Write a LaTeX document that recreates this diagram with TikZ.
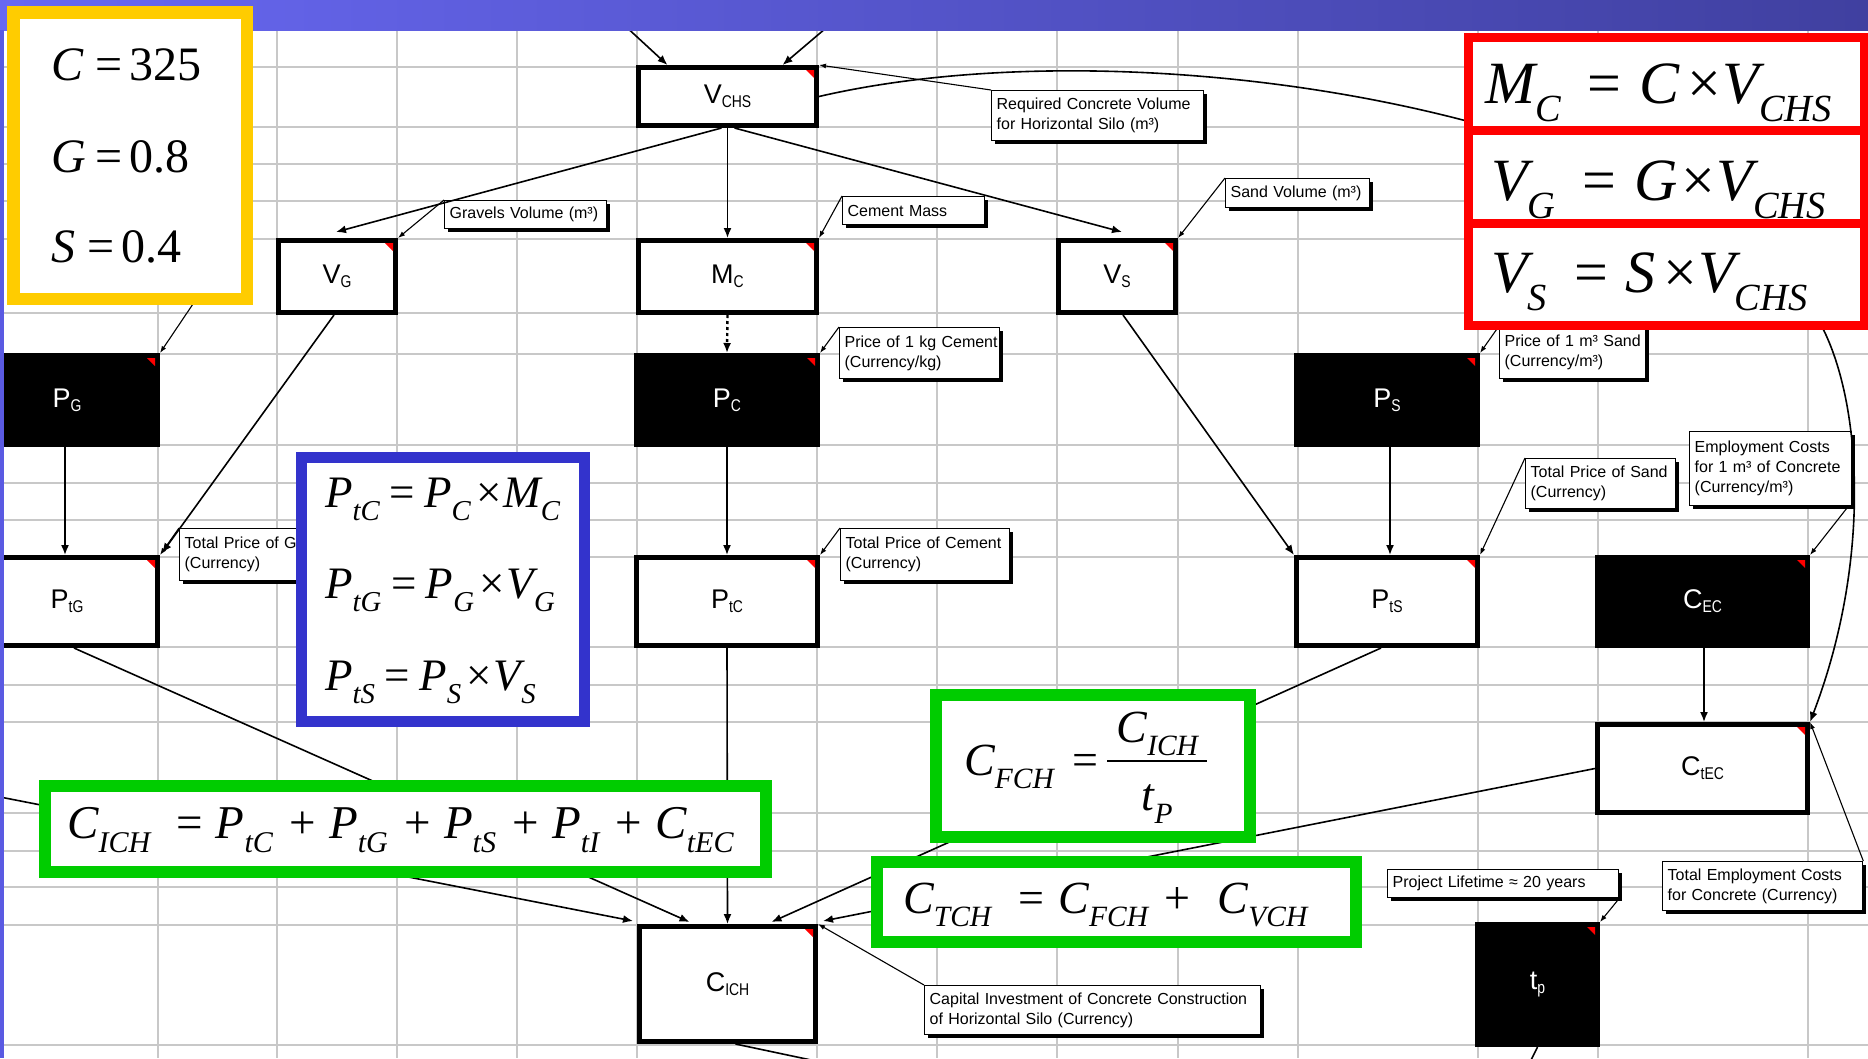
\documentclass[tikz,border=0pt]{standalone}
\usepackage{fontspec}
\usepackage{graphicx}
\usetikzlibrary{arrows.meta,shadows}
\setmainfont{Liberation Sans}
\newfontfamily\tms{Liberation Serif}
\newfontfamily\clf{Liberation Sans}
\newfontfamily\sbf[FakeStretch=0.82]{Liberation Sans}

\definecolor{gridc}{RGB}{200,200,200}
\definecolor{hdrL}{RGB}{104,104,242}
\definecolor{hdrR}{RGB}{64,64,160}
\definecolor{stripc}{RGB}{90,90,226}
\definecolor{yelc}{RGB}{255,204,0}
\definecolor{bluc}{RGB}{51,51,204}
\definecolor{grnc}{RGB}{0,204,0}
\definecolor{redc}{RGB}{255,0,0}

\newcommand\nlab[2]{{\fontsize{27}{27}\selectfont #1}\raisebox{-4pt}{\sbf\fontsize{17}{17}\selectfont #2}}
\newcommand\fv[2]{{\itshape #1}\raisebox{-0.3em}{\scalebox{0.64}{\itshape #2}}}
\newcommand\Eq[2]{\hspace{#1}=\hspace{#2}}
\newcommand\Pl[2]{\hspace{#1}+\hspace{#2}}
\newcommand\Tm[2]{\hspace{#1}×\hspace{#2}}
\newcommand\ffrac[3]{\rlap{\makebox[#1]{\raisebox{33pt}{#2}}}\rlap{\makebox[#1]{\raisebox{-35pt}{#3}}}\rule[13pt]{#1}{2pt}}
\newcommand\rtri[1]{\fill[redc] ([xshift=-13pt,yshift=-5pt]#1.north east) -- ([xshift=-5pt,yshift=-5pt]#1.north east) -- ([xshift=-5pt,yshift=-13pt]#1.north east) -- cycle;}

\tikzset{
  wbox/.style={draw=black, line width=5pt, fill=white, inner sep=0pt},
  bbox/.style={draw=black, line width=5pt, fill=black, text=white, inner sep=0pt},
  callout/.style={draw=black, line width=1.3pt, fill=white, anchor=north west, align=left,
    inner xsep=5pt, inner ysep=2pt, font=\clf\fontsize{16}{20}\selectfont,
    drop shadow={shadow xshift=3pt, shadow yshift=-3pt, fill=black, opacity=1}},
  conn/.style={line width=1.6pt, -{Latex[length=10pt,width=8pt]}},
  lead/.style={line width=1.1pt, -{Latex[length=7pt,width=5pt]}},
  gridl/.style={draw=gridc, line width=2pt},
  eqtext/.style={anchor=base west, inner sep=0pt, font=\tms},
  eqbox/.style={draw=#1, fill=white, inner sep=0pt}
}

\begin{document}
\begin{tikzpicture}[x=1pt,y=-1pt]
\useasboundingbox (0,0) rectangle (1868,1058);
\clip (0,0) rectangle (1868,1058);
\fill[white] (0,0) rectangle (1868,1058);

% grid
\foreach \gx in {158,277,397,517,637,817,937,1057,1178,1298,1478,1598,1808}
  \draw[gridl] (\gx,30) -- (\gx,1058);
\foreach \gy in {67,127,164,201,239,313,354,445,483,520,557,647,685,722,813,851,887,925,1045}
  \draw[gridl] (0,\gy) -- (1868,\gy);

% model boxes
\node[wbox, minimum width=178pt, minimum height=58pt] (vchs) at (727.5,96.5) {\nlab{V}{CHS}};
\node[wbox, minimum width=117pt, minimum height=72pt] (vg) at (337,276.5) {\nlab{V}{G}};
\node[wbox, minimum width=178pt, minimum height=72pt] (mc) at (727.5,276.5) {\nlab{M}{C}};
\node[wbox, minimum width=117pt, minimum height=72pt] (vs) at (1117,276.5) {\nlab{V}{S}};
\node[bbox, minimum width=181pt, minimum height=89pt] (pg) at (67,400) {\nlab{P}{G}};
\node[bbox, minimum width=181pt, minimum height=89pt] (pc) at (727,400) {\nlab{P}{C}};
\node[bbox, minimum width=181pt, minimum height=89pt] (ps) at (1387,400) {\nlab{P}{S}};
\node[wbox, minimum width=181pt, minimum height=88pt] (ptg) at (67,601.5) {\nlab{P}{tG}};
\node[wbox, minimum width=181pt, minimum height=88pt] (ptc) at (727,601.5) {\nlab{P}{tC}};
\node[wbox, minimum width=181pt, minimum height=88pt] (pts) at (1387,601.5) {\nlab{P}{tS}};
\node[bbox, minimum width=210pt, minimum height=88pt] (cec) at (1702.5,601.5) {\nlab{C}{EC}};
\node[wbox, minimum width=210pt, minimum height=88pt] (ctec) at (1702.5,768.5) {\nlab{C}{tEC}};
\node[wbox, minimum width=176pt, minimum height=115pt] (cich) at (727.5,984) {\nlab{C}{ICH}};
\node[bbox, minimum width=120pt, minimum height=120pt] (tp) at (1537.5,984.5) {\nlab{t}{p}};
\foreach \n in {vchs,vg,mc,vs,pg,pc,ps,ptg,ptc,pts,cec,ctec,cich,tp} {\rtri{\n}}

% callouts
\node[callout, text width=202pt, minimum height=50pt] (rcv) at (991,90) {\mbox{Required Concrete Volume}\\\mbox{for Horizontal Silo (m³)}};
\node[callout, text width=152pt, minimum height=28pt] (gvv) at (444,200) {\mbox{Gravels Volume (m³)}};
\node[callout, text width=132pt, minimum height=28pt] (cmm) at (842,196) {\mbox{Cement Mass}};
\node[callout, text width=134pt, minimum height=29pt] (sdv) at (1225,178) {\mbox{Sand Volume (m³)}};
\node[callout, text width=150pt, minimum height=51pt] (p1c) at (839,327) {\mbox{Price of 1 kg Cement}\\\mbox{(Currency/kg)}};
\node[callout, text width=136pt, minimum height=52pt] (p1s) at (1499,326) {\mbox{Price of 1 m³ Sand}\\\mbox{(Currency/m³)}};
\node[callout, text width=160pt, minimum height=52pt] (tpg) at (179,528) {\mbox{Total Price of Gravel}\\\mbox{(Currency)}};
\node[callout, text width=159pt, minimum height=52pt] (tpc) at (840,528) {\mbox{Total Price of Cement}\\\mbox{(Currency)}};
\node[callout, text width=140pt, minimum height=50pt] (tps) at (1525,458) {\mbox{Total Price of Sand}\\\mbox{(Currency)}};
\node[callout, text width=152pt, minimum height=74pt] (emp) at (1689,431) {\mbox{Employment Costs}\\\mbox{for 1 m³ of Concrete}\\\mbox{(Currency/m³)}};
\node[callout, text width=190pt, minimum height=49pt] (tem) at (1662,861) {\mbox{Total Employment Costs}\\\mbox{for Concrete (Currency)}};
\node[callout, text width=221pt, minimum height=28pt] (plt) at (1387,869) {\mbox{Project Lifetime ≈ 20 years}};
\node[callout, text width=326pt, minimum height=49pt] (cap) at (924,985) {\mbox{Capital Investment of Concrete Construction}\\\mbox{of Horizontal Silo (Currency)}};

% free ends
\coordinate (in1) at (597,0);
\coordinate (in2) at (859,0);
\coordinate (inL) at (-5,796);
\coordinate (out1) at (830,1064);
\coordinate (out2) at (1527,1068);
\coordinate (pgc) at (197,298);

% connectors
\draw[conn] (in1) -- ([xshift=-60pt]vchs.north);
\draw[conn] (in2) -- ([xshift=55pt]vchs.north);
\draw[conn] ([xshift=-6pt]vchs.south) -- ([xshift=-1pt,yshift=6pt]vg.north);
\draw[conn] (vchs.south) -- (mc.north);
\draw[conn] ([xshift=7pt]vchs.south) -- ([xshift=5pt,yshift=6pt]vs.north);
\draw[conn, line width=2.4pt, dash pattern=on 3pt off 3pt] (mc.south) -- (pc.north);
\draw[conn] ([xshift=-2pt]pg.south) -- ([xshift=-2pt]ptg.north);
\draw[conn] ([xshift=-3pt]vg.south) -- ([xshift=2pt,yshift=2pt]ptg.north east);
\draw[conn] (pc.south) -- (ptc.north);
\draw[conn] ([xshift=6pt]vs.south) -- (pts.north west);
\draw[conn] ([xshift=3pt]ps.south) -- ([xshift=3pt]pts.north);
\draw[conn] ([xshift=1.5pt]cec.south) -- ([xshift=1.5pt]ctec.north);
\draw[conn] (vchs.east) .. controls (1150,20) and (1700,120) .. (1820,323)
  .. controls (1862,400) and (1872,560) .. (ctec.north east);
\draw[conn] ([xshift=7pt]ptg.south) -- ([xshift=-38pt,yshift=2pt]cich.north);
\draw[conn] (inL) -- ([xshift=-4pt,yshift=3pt]cich.north west);
\draw[conn] (ptc.south) -- (cich.north);
\draw[conn] ([xshift=-6pt]pts.south) -- ([xshift=44pt,yshift=2pt]cich.north);
\draw[conn] (ctec.west) -- ([xshift=5pt,yshift=3pt]cich.north east);
\draw[line width=1.6pt] ([xshift=8pt]cich.south) -- (out1);
\draw[line width=1.6pt] (tp.south) -- (out2);

% callout leaders
\draw[lead] (rcv.north west) -- (vchs.north east);
\draw[lead] (gvv.north west) -- (vg.north east);
\draw[lead] (cmm.north west) -- (mc.north east);
\draw[lead] (sdv.north west) -- (vs.north east);
\draw[lead] (p1c.north west) -- (pc.north east);
\draw[lead] (p1s.north west) -- (ps.north east);
\draw[lead] (pgc) -- (pg.north east);
\draw[lead] (tpg.north west) -- (ptg.north east);
\draw[lead] (tpc.north west) -- (ptc.north east);
\draw[lead] (tps.north west) -- (pts.north east);
\draw[lead] ([xshift=-4pt]emp.south east) -- (cec.north east);
\draw[lead] (tem.north east) -- (ctec.north east);
\draw[lead] (plt.south east) -- (tp.north east);
\draw[lead] (cap.north west) -- (cich.north east);

% red equation cells
\node[eqbox=redc, line width=9pt, minimum width=395.5pt, minimum height=92.5pt] (rb1) at (1666.25,83.75) {};
\node[eqbox=redc, line width=9pt, minimum width=395.5pt, minimum height=93pt] (rb2) at (1666.25,176.5) {};
\node[eqbox=redc, line width=9pt, minimum width=395.5pt, minimum height=102.5pt] (rb3) at (1666.25,274.25) {};
\node[eqtext] (fm1) at (1485,103) {\fontsize{60}{60}\selectfont\fv{M}{C}\Eq{0.45em}{0.3em}\textit{C}\Tm{0.12em}{0.02em}\fv{V}{CHS}};
\node[eqtext] (fm2) at (1491,200) {\fontsize{60}{60}\selectfont\fv{V}{G}\Eq{0.45em}{0.3em}\textit{G}\Tm{0.06em}{0.02em}\fv{V}{CHS}};
\node[eqtext] (fm3) at (1491,292) {\fontsize{60}{60}\selectfont\fv{V}{S}\Eq{0.45em}{0.3em}\textit{S}\Tm{0.12em}{0.02em}\fv{V}{CHS}};

% blue equation box
\node[eqbox=bluc, line width=11pt, minimum width=283pt, minimum height=264pt] (bb) at (443,589.5) {};
\node[eqtext] (fb1) at (325,507) {\fontsize{45}{45}\selectfont\fv{P}{tC}\Eq{0.22em}{0.2em}\fv{P}{C}\Tm{0.12em}{0.04em}\fv{M}{C}};
\node[eqtext] (fb2) at (325,598) {\fontsize{45}{45}\selectfont\fv{P}{tG}\Eq{0.22em}{0.2em}\fv{P}{G}\Tm{0.12em}{0.04em}\fv{V}{G}};
\node[eqtext] (fb3) at (325,690) {\fontsize{45}{45}\selectfont\fv{P}{tS}\Eq{0.22em}{0.2em}\fv{P}{S}\Tm{0.12em}{0.04em}\fv{V}{S}};

% green equation boxes
\node[eqbox=grnc, line width=12pt, minimum width=721pt, minimum height=86pt] (gb1) at (405.5,829) {};
\node[eqbox=grnc, line width=12pt, minimum width=314pt, minimum height=142pt] (gb2) at (1093,766) {};
\node[eqbox=grnc, line width=12pt, minimum width=479pt, minimum height=80pt] (gb3) at (1116.5,902) {};
\node[eqtext] (fg1) at (67,838) {\fontsize{47}{47}\selectfont\fv{C}{ICH}\Eq{0.55em}{0.28em}\fv{P}{tC}\Pl{0.35em}{0.28em}\fv{P}{tG}\Pl{0.35em}{0.28em}\fv{P}{tS}\Pl{0.35em}{0.28em}\fv{P}{tI}\Pl{0.35em}{0.28em}\fv{C}{tEC}};
\node[eqtext] (fg2) at (964,775) {\fontsize{46}{46}\selectfont\fv{C}{FCH}\Eq{0.4em}{0.2em}\ffrac{100pt}{\fv{C}{ICH}}{\fv{t}{P}}};
\node[eqtext] (fg3) at (903,913) {\fontsize{46}{46}\selectfont\fv{C}{TCH}\Eq{0.6em}{0.3em}\fv{C}{FCH}\Pl{0.35em}{0.6em}\fv{C}{VCH}};

% header and left strip
\fill[left color=hdrL, right color=hdrR] (0,0) rectangle (1868,30);
\fill[stripc] (0,30) rectangle (4,1058);

% yellow parameter box
\node[eqbox=yelc, line width=12.5pt, minimum width=233.5pt, minimum height=286.5pt] (ybox) at (130,155.5) {};
\node[eqtext] (yc) at (51,80) {\fontsize{48}{48}\selectfont\textit{C}\Eq{0.25em}{0.15em}325};
\node[eqtext] (yg) at (51,172) {\fontsize{48}{48}\selectfont\textit{G}\Eq{0.2em}{0.15em}0.8};
\node[eqtext] (ys) at (51,262) {\fontsize{48}{48}\selectfont\textit{S}\Eq{0.25em}{0.15em}0.4};
\end{tikzpicture}
\end{document}
